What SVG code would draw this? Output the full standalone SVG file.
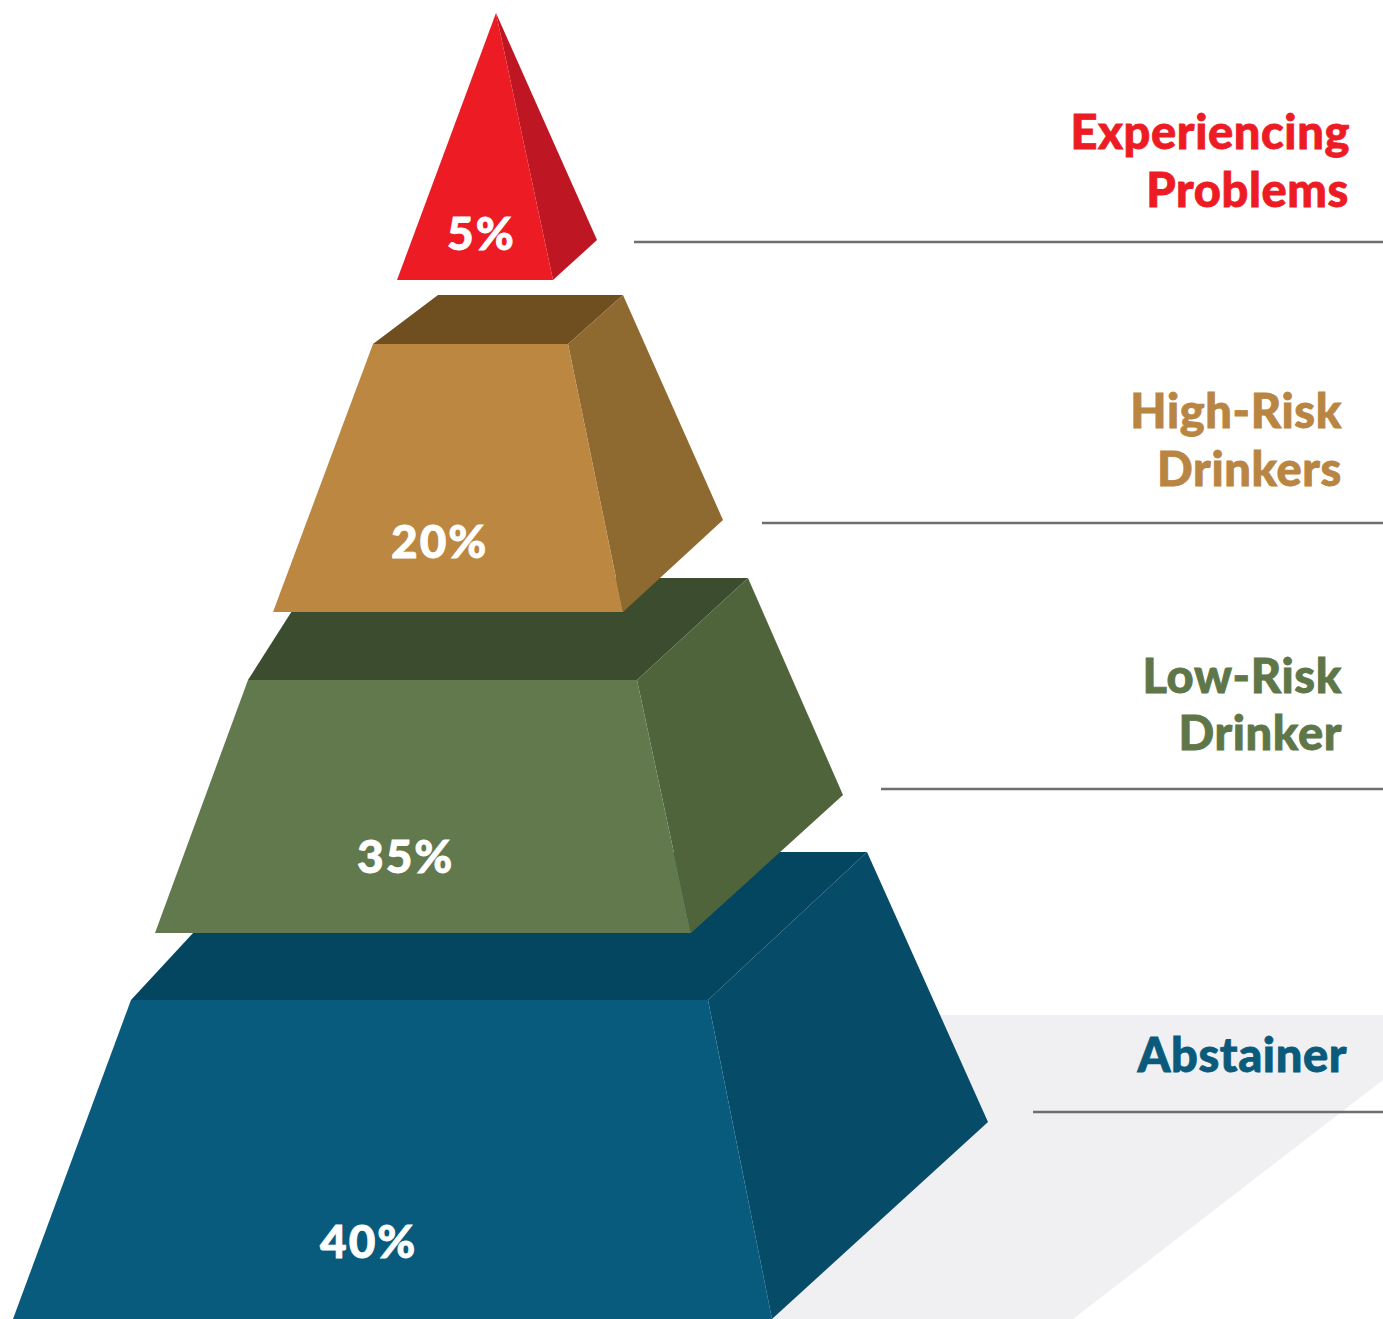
<svg xmlns="http://www.w3.org/2000/svg" width="1383" height="1319" viewBox="0 0 1383 1319">
  <style>
    .pct { font-family: Lato, "Open Sans", "Liberation Sans", sans-serif; font-weight: 900; font-size: 46px; letter-spacing: 2px; fill: #FFFFFF; stroke: #FFFFFF; stroke-width: 0.8; }
    .lbl { font-family: Lato, "Open Sans", "Liberation Sans", sans-serif; font-weight: 900; font-size: 47px; letter-spacing: 0.6px; text-anchor: end; stroke-width: 0.8; }
    .rule { stroke: #6E6E6E; stroke-width: 2.5; fill: none; }
  </style>
  <rect width="1383" height="1319" fill="#FFFFFF"/>
  <g id="shadow">
    <polygon points="900,1015 1383,1015 1383,1080 1073,1319 700,1319" fill="#F0F0F2"/>
  </g>
  <g id="connectors">
    <line class="rule" x1="634" y1="242" x2="1383" y2="242"/>
    <line class="rule" x1="762" y1="523" x2="1383" y2="523"/>
    <line class="rule" x1="881" y1="789" x2="1383" y2="789"/>
    <line class="rule" x1="1033" y1="1112" x2="1383" y2="1112" stroke="#3A3A3A"/>
  </g>
  <g id="tier-abstainer">
    <polygon points="131,1000 268,852 867,852 708,1000" fill="#04455F"/>
    <polygon points="708,1000 867,852 988,1122 772,1319" fill="#064B68"/>
    <polygon points="131,1000 708,1000 772,1319 13,1319" fill="#085B7D"/>
    <text class="pct" x="320" y="1258">40%</text>
    <text class="lbl" x="1347" y="1072" fill="#0A5A7C" stroke="#0A5A7C">Abstainer</text>
  </g>
  <g id="tier-low-risk">
    <polygon points="248,680 313,578 748,578 637,680" fill="#3C4D2F"/>
    <polygon points="637,680 748,578 843,795 691,933" fill="#50643C"/>
    <polygon points="248,680 637,680 691,933 155,933" fill="#62784D"/>
    <text class="pct" x="357" y="873">35%</text>
    <text class="lbl" x="1342" y="693" fill="#5E7648" stroke="#5E7648">Low-Risk</text>
    <text class="lbl" x="1342" y="750" fill="#5E7648" stroke="#5E7648">Drinker</text>
  </g>
  <g id="tier-high-risk">
    <polygon points="373,344 438,295 623,295 568,344" fill="#6F4E20"/>
    <polygon points="568,344 623,295 723,520 623,612" fill="#8F6A30"/>
    <polygon points="373,344 568,344 623,612 273,612" fill="#BB8741"/>
    <text class="pct" x="391" y="558">20%</text>
    <text class="lbl" x="1342" y="428" fill="#B98542" stroke="#B98542">High-Risk</text>
    <text class="lbl" x="1342" y="486" fill="#B98542" stroke="#B98542">Drinkers</text>
  </g>
  <g id="tier-problems">
    <polygon points="496,13 597,240 553,280" fill="#BE1622"/>
    <polygon points="496,13 553,280 397,280" fill="#ED1C24"/>
    <text class="pct" x="447" y="250">5%</text>
    <text class="lbl" x="1350" y="149" fill="#ED1C24" stroke="#ED1C24">Experiencing</text>
    <text class="lbl" x="1349" y="207" fill="#ED1C24" stroke="#ED1C24">Problems</text>
  </g>
</svg>
